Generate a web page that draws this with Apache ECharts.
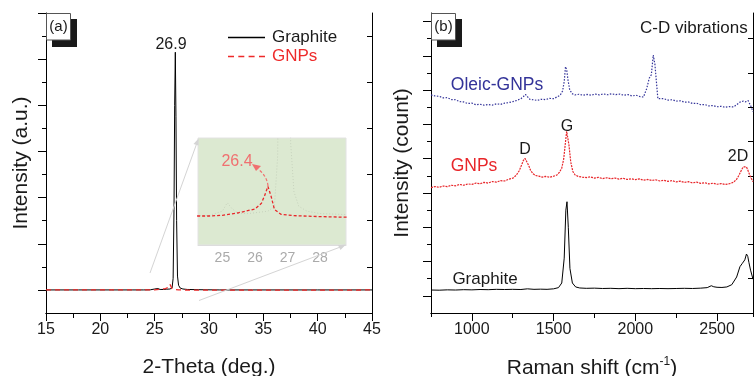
<!DOCTYPE html>
<html><head><meta charset="utf-8">
<script src="https://cdn.jsdelivr.net/npm/echarts@6/dist/echarts.min.js"></script>
<style>html,body{margin:0;padding:0;background:#fff}#c{width:754px;height:376px}</style>
</head><body><div id="c"></div>
<script>
// ---------- DATA ----------
// (a) XRD
const xrdGraphiteX = [15,18,21,23,24,24.6,25.0,25.15,25.3,25.5,25.8,26.1,26.4,26.6,26.7,26.78,26.84,26.9,26.96,27.02,27.1,27.2,27.35,27.6,28,29,31,34,37,40,43,45];
const xrdGraphiteY = [1.0,1.0,1.0,1.0,1.0,1.005,1.04,1.11,1.06,1.02,1.02,1.03,1.04,1.08,1.5,4.5,9.0,11.3,8.5,4.0,1.6,1.2,1.08,1.04,1.02,1.01,1.0,1.0,1.0,1.0,1.0,1.0];
const xrdGnpX = [15,17,19,21,23,24,24.25,24.6,25,25.5,26.0,26.2,26.3,26.4,26.5,26.6,26.8,27.2,28,28.8,30,33,36,39,42,45];
const xrdGnpY = [1.0,1.0,1.0,1.0,1.0,1.0,1.0,1.0,1.006,1.027,1.058,1.105,1.17,1.245,1.16,1.055,1.014,1.003,0.995,0.99,0.99,0.99,0.99,0.99,0.99,1.0];
const xrdTickLabels = [15,20,25,30,35,40,45];
const xrdTopTicks = [17.5,22.5,27.5,32.5,37.5,42.5];
const xrdLeftMajor = [1,3,5,7,9,11,13];
const xrdEven = [2,4,6,8,10,12];
const insetTickLabels = [25,26,27,28];

// (b) Raman
const ramanGraphiteX = [750,800,850,900,950,1000,1050,1100,1150,1200,1250,1300,1340,1380,1420,1460,1500,1530,1550,1565,1575,1582,1590,1600,1615,1635,1660,1700,1750,1800,1850,1900,1950,2000,2050,2100,2150,2200,2250,2300,2350,2400,2440,2465,2480,2500,2530,2560,2590,2620,2640,2655,2670,2680,2688,2695,2705,2720];
const ramanGraphiteY = [1.34,1.33,1.35,1.34,1.36,1.35,1.37,1.36,1.38,1.37,1.38,1.37,1.41,1.38,1.39,1.38,1.41,1.48,1.75,3.2,6.0,6.49,5.0,2.6,1.75,1.52,1.46,1.44,1.45,1.43,1.44,1.42,1.44,1.42,1.43,1.42,1.43,1.42,1.43,1.44,1.43,1.45,1.48,1.59,1.53,1.50,1.49,1.52,1.65,2.1,2.7,2.9,3.1,3.44,3.3,2.95,2.5,1.97];
const ramanGnpX = [750,775,800,825,850,875,900,925,950,975,1000,1025,1050,1075,1100,1125,1150,1175,1200,1225,1250,1270,1290,1305,1315,1325,1335,1348,1360,1375,1390,1410,1430,1450,1475,1500,1520,1535,1550,1562,1572,1580,1586,1594,1605,1618,1632,1650,1675,1700,1725,1750,1775,1800,1825,1850,1875,1900,1925,1950,1975,2000,2025,2050,2075,2100,2125,2150,2175,2200,2225,2250,2275,2300,2325,2350,2375,2400,2425,2450,2475,2500,2525,2550,2575,2600,2620,2635,2650,2660,2670,2680,2690,2700,2710,2720];
const ramanGnpY = [7.31,7.38,7.33,7.41,7.37,7.45,7.42,7.50,7.45,7.53,7.50,7.58,7.54,7.62,7.58,7.67,7.63,7.72,7.70,7.80,7.86,8.02,8.3,8.65,8.9,9.02,8.92,8.6,8.3,8.12,8.02,7.98,7.93,7.97,7.92,7.98,8.05,8.2,8.45,9.0,9.9,10.6,10.68,9.8,8.8,8.25,8.05,7.97,7.93,7.90,7.94,7.87,7.91,7.84,7.89,7.83,7.87,7.81,7.86,7.79,7.83,7.78,7.82,7.75,7.79,7.73,7.77,7.70,7.74,7.68,7.72,7.65,7.69,7.62,7.66,7.59,7.63,7.56,7.60,7.53,7.57,7.51,7.55,7.50,7.54,7.62,7.8,8.05,8.35,8.52,8.59,8.52,8.3,8.05,7.85,7.66];
const ramanOleicX = [750,775,800,825,850,875,900,925,950,975,1000,1025,1050,1075,1100,1125,1150,1175,1200,1225,1250,1275,1300,1315,1328,1340,1355,1375,1400,1425,1450,1475,1500,1520,1540,1555,1565,1573,1580,1588,1598,1612,1630,1655,1680,1705,1730,1755,1780,1805,1830,1855,1880,1905,1930,1955,1980,2005,2030,2050,2060,2070,2085,2098,2110,2120,2128,2138,2150,2175,2200,2225,2250,2275,2300,2325,2350,2375,2400,2425,2450,2475,2500,2525,2550,2575,2600,2620,2640,2660,2675,2690,2700,2710,2720];
const ramanOleicY = [12.72,12.66,12.64,12.55,12.56,12.45,12.44,12.33,12.31,12.22,12.24,12.15,12.18,12.12,12.16,12.13,12.2,12.17,12.24,12.27,12.33,12.4,12.5,12.62,12.75,12.62,12.46,12.44,12.40,12.47,12.45,12.52,12.5,12.6,12.7,12.95,13.5,14.37,14.2,13.6,13.05,12.8,12.72,12.76,12.70,12.75,12.71,12.77,12.72,12.78,12.73,12.79,12.74,12.77,12.70,12.74,12.66,12.7,12.62,12.6,12.56,13.1,13.69,13.9,15.05,14.5,13.6,12.5,12.46,12.5,12.42,12.44,12.36,12.38,12.3,12.31,12.22,12.24,12.15,12.16,12.08,12.1,12.03,12.06,12.0,12.04,12.02,12.15,12.3,12.36,12.32,12.39,12.3,12.0,11.74];
const ramanTickLabels = [1000,1500,2000,2500];
const ramanTopTicks = [1250,1750,2250];
const ramanLeftMajor = [1,3,5,7,9,11,13,15,17];
const ramanEven = [2,4,6,8,10,12,14,16];

// ---------- CHART ----------
const zip = (xs, ys) => xs.map((x, i) => [x, ys[i]]);
const FONT = 'Liberation Sans, Arial, Helvetica, sans-serif';
const INK = '#1a1a1a';
const RED_A = '#ee2a2a';
const chart = echarts.init(document.getElementById('c'), null, {renderer: 'canvas'});

const A = {left: 46, top: 13, width: 326, height: 300, outerBoundsMode: 'none', containLabel: false};
const B = {left: 431, top: 13, width: 322, height: 300, outerBoundsMode: 'none', containLabel: false};
const INSET = {left: 198, top: 138, width: 148, height: 107, outerBoundsMode: 'none', containLabel: false};

const hiddenAxisBase = {axisLabel: {show: false}, splitLine: {show: false}};
const line = {lineStyle: {color: '#000', width: 1}};
const plain = v => String(v);

const option = {
  animation: false,
  backgroundColor: '#fff',
  textStyle: {fontFamily: FONT},
  grid: [
    Object.assign({}, A),
    Object.assign({}, A),
    Object.assign({}, B),
    Object.assign({}, B),
    Object.assign({show: true, backgroundColor: '#dce9d1', borderColor: '#e2e2e2', borderWidth: 1}, INSET)
  ],
  xAxis: [
    {gridIndex: 0, type: 'value', position: 'bottom', min: 15, max: 45, interval: 5,
     axisLine: line, axisTick: {length: 8, lineStyle: {color: '#000'}},
     minorTick: {show: true, splitNumber: 2, length: 4, lineStyle: {color: '#000'}},
     axisLabel: {fontSize: 16, color: INK, margin: 9, customValues: xrdTickLabels, formatter: plain},
     splitLine: {show: false}, minorSplitLine: {show: false},
     name: '2-Theta (deg.)', nameLocation: 'middle', nameGap: 44, nameTextStyle: {fontSize: 21, color: INK}},
    Object.assign({gridIndex: 0, type: 'value', position: 'top', min: 15, max: 45,
     axisLine: line, axisTick: {inside: true, length: 5, customValues: xrdTopTicks, lineStyle: {color: '#000'}}}, hiddenAxisBase),
    {gridIndex: 1, type: 'value', min: 15, max: 45, show: false},
    {gridIndex: 2, type: 'value', position: 'bottom', min: 750, max: 2720, interval: 250,
     axisLine: line, axisTick: {length: 4, lineStyle: {color: '#000'}},
     axisLabel: {fontSize: 16, color: INK, margin: 9, customValues: ramanTickLabels, formatter: plain},
     splitLine: {show: false},
     name: 'Raman shift (cm{sup|-1})', nameLocation: 'middle', nameGap: 43,
     nameTextStyle: {fontSize: 21, color: INK, lineHeight: 24, rich: {sup: {fontSize: 12, color: INK, verticalAlign: 'top', lineHeight: 24}}}},
    Object.assign({gridIndex: 2, type: 'value', position: 'top', min: 750, max: 2720,
     axisLine: line, axisTick: {inside: true, length: 5, customValues: ramanTopTicks, lineStyle: {color: '#000'}}}, hiddenAxisBase),
    Object.assign({gridIndex: 3, type: 'value', position: 'bottom', min: 750, max: 2720,
     axisLine: {show: false}, axisTick: {length: 8, customValues: ramanTickLabels, lineStyle: {color: '#000'}}}, hiddenAxisBase),
    {gridIndex: 4, type: 'value', position: 'bottom', min: 24.25, max: 28.8,
     axisLine: {lineStyle: {color: '#dddddd'}}, axisTick: {show: false},
     axisLabel: {fontSize: 14, color: '#aaaaaa', margin: 6, customValues: insetTickLabels, formatter: plain},
     splitLine: {show: false}}
  ],
  yAxis: [
    Object.assign({gridIndex: 0, type: 'value', position: 'left', min: 0, max: 13,
     axisLine: line, axisTick: {show: true, length: 8, customValues: xrdLeftMajor, lineStyle: {color: '#000'}},
     name: 'Intensity (a.u.)', nameLocation: 'middle', nameGap: 14, nameTextStyle: {fontSize: 21, color: INK}}, hiddenAxisBase),
    Object.assign({gridIndex: 0, type: 'value', position: 'right', min: 0, max: 13,
     axisLine: line, axisTick: {show: true, inside: true, length: 5, customValues: xrdEven, lineStyle: {color: '#000'}}}, hiddenAxisBase),
    Object.assign({gridIndex: 1, type: 'value', position: 'left', min: 0, max: 13,
     axisLine: {show: false}, axisTick: {show: true, length: 4, customValues: xrdEven, lineStyle: {color: '#000'}}}, hiddenAxisBase),
    Object.assign({gridIndex: 2, type: 'value', position: 'left', min: 0, max: 17.5,
     axisLine: line, axisTick: {show: true, length: 8, customValues: ramanLeftMajor, lineStyle: {color: '#000'}},
     name: 'Intensity (count)', nameLocation: 'middle', nameGap: 18, nameTextStyle: {fontSize: 21, color: INK}}, hiddenAxisBase),
    Object.assign({gridIndex: 2, type: 'value', position: 'right', min: 0, max: 17.5,
     axisLine: line, axisTick: {show: true, inside: true, length: 5, customValues: ramanEven, lineStyle: {color: '#000'}}}, hiddenAxisBase),
    Object.assign({gridIndex: 3, type: 'value', position: 'left', min: 0, max: 17.5,
     axisLine: {show: false}, axisTick: {show: true, length: 4, customValues: ramanEven, lineStyle: {color: '#000'}}}, hiddenAxisBase),
    Object.assign({gridIndex: 4, type: 'value', position: 'left', min: 0.76, max: 1.6455,
     axisLine: {show: false}, axisTick: {show: false}}, hiddenAxisBase)
  ],
  legend: {
    left: 223, top: 24, orient: 'vertical', itemWidth: 37, itemHeight: 1.3, itemGap: 2,
    symbolKeepAspect: false,
    textStyle: {fontSize: 17, color: INK, padding: [0, 0, 0, 2]},
    data: [
      {name: 'Graphite', icon: 'path://M0,0H37V1H0Z', itemStyle: {color: '#000'}, textStyle: {color: INK}},
      {name: 'GNPs', icon: 'path://M0,0H6V1H0Z M10.3,0H16.3V1H10.3Z M20.6,0H26.6V1H20.6Z M31,0H37V1H31Z', itemStyle: {color: RED_A}, textStyle: {color: RED_A}}
    ]
  },
  series: [
    {name: 'Graphite', type: 'line', xAxisIndex: 0, yAxisIndex: 0, data: zip(xrdGraphiteX, xrdGraphiteY),
     symbol: 'none', lineStyle: {color: '#000', width: 1}, itemStyle: {color: '#000'}},
    {name: 'GNPs', type: 'line', xAxisIndex: 0, yAxisIndex: 0, data: zip(xrdGnpX, xrdGnpY),
     symbol: 'none', lineStyle: {color: RED_A, width: 1.3, type: [5, 4]}, itemStyle: {color: RED_A}},
    {name: 'Graphite (inset)', type: 'line', xAxisIndex: 6, yAxisIndex: 6, data: zip(xrdGraphiteX, xrdGraphiteY),
     symbol: 'none', clip: true, lineStyle: {color: 'rgba(0,0,0,0.10)', width: 1, type: [1, 2]}},
    {name: 'GNPs (inset)', type: 'line', xAxisIndex: 6, yAxisIndex: 6, data: zip(xrdGnpX, xrdGnpY),
     symbol: 'none', clip: true, lineStyle: {color: '#e8262a', width: 1.3, type: [3, 2]}},
    {name: 'Raman Graphite', type: 'line', xAxisIndex: 3, yAxisIndex: 3, data: zip(ramanGraphiteX, ramanGraphiteY),
     symbol: 'none', lineStyle: {color: '#000', width: 1}},
    {name: 'Raman GNPs', type: 'line', xAxisIndex: 3, yAxisIndex: 3, data: zip(ramanGnpX, ramanGnpY),
     symbol: 'none', lineStyle: {color: '#e8262a', width: 1.2, type: [2, 1]}},
    {name: 'Raman Oleic-GNPs', type: 'line', xAxisIndex: 3, yAxisIndex: 3, data: zip(ramanOleicX, ramanOleicY),
     symbol: 'none', lineStyle: {color: '#333399', width: 1.2, type: [1.5, 1.5]}}
  ],
  graphic: [
    // zoom guide lines (a)
    {type: 'line', z: 50, shape: {x1: 150, y1: 273, x2: 198, y2: 140}, style: {stroke: '#d4d4d4', lineWidth: 1}},
    {type: 'polygon', z: 50, shape: {points: [[198.5, 138.5], [193.5, 144], [198.5, 145.5]]}, style: {fill: '#d4d4d4'}},
    {type: 'line', z: 50, shape: {x1: 199, y1: 300.5, x2: 343, y2: 246}, style: {stroke: '#d4d4d4', lineWidth: 1}},
    {type: 'polygon', z: 50, shape: {points: [[346, 244.5], [338, 245.2], [340.5, 250]]}, style: {fill: '#d4d4d4'}},
    // inset annotation arrow
    {type: 'bezierCurve', z: 60, shape: {x1: 268, y1: 186, cpx1: 267, cpy1: 176, x2: 258, y2: 169}, style: {stroke: '#f07070', lineWidth: 1.2, lineDash: [3, 2], fill: null}},
    {type: 'polygon', z: 60, shape: {points: [[252, 164], [261, 166], [256, 171]]}, style: {fill: '#f07070'}},
    {type: 'text', z: 60, style: {x: 237, y: 162, text: '26.4', fontSize: 16, fill: '#f07070', align: 'center', verticalAlign: 'middle', fontFamily: FONT}},
    // peak label (a)
    {type: 'text', z: 60, style: {x: 171, y: 45, text: '26.9', fontSize: 16, fill: INK, align: 'center', verticalAlign: 'middle', fontFamily: FONT}},
    // panel tags
    {type: 'rect', z: 70, shape: {x: 52, y: 19, width: 25, height: 28}, style: {fill: '#1a1a1a'}},
    {type: 'rect', z: 71, shape: {x: 46.5, y: 13.5, width: 24, height: 26.5}, style: {fill: '#fff', stroke: '#555', lineWidth: 1}},
    {type: 'text', z: 72, style: {x: 58.5, y: 27, text: '(a)', fontSize: 15, fill: INK, align: 'center', verticalAlign: 'middle', fontFamily: FONT}},
    {type: 'rect', z: 70, shape: {x: 437, y: 19, width: 25, height: 28}, style: {fill: '#1a1a1a'}},
    {type: 'rect', z: 71, shape: {x: 431.5, y: 13.5, width: 24, height: 26.5}, style: {fill: '#fff', stroke: '#555', lineWidth: 1}},
    {type: 'text', z: 72, style: {x: 443.5, y: 27, text: '(b)', fontSize: 15, fill: INK, align: 'center', verticalAlign: 'middle', fontFamily: FONT}},
    // panel (b) annotations
    {type: 'text', z: 60, style: {x: 640, y: 28, text: 'C-D vibrations', fontSize: 17, fill: INK, align: 'left', verticalAlign: 'middle', fontFamily: FONT}},
    {type: 'text', z: 60, style: {x: 497, y: 85, text: 'Oleic-GNPs', fontSize: 17.5, fill: '#333399', align: 'center', verticalAlign: 'middle', fontFamily: FONT}},
    {type: 'text', z: 60, style: {x: 474, y: 166, text: 'GNPs', fontSize: 17.5, fill: '#e8262a', align: 'center', verticalAlign: 'middle', fontFamily: FONT}},
    {type: 'text', z: 60, style: {x: 485, y: 279, text: 'Graphite', fontSize: 17, fill: INK, align: 'center', verticalAlign: 'middle', fontFamily: FONT}},
    {type: 'text', z: 60, style: {x: 525, y: 150, text: 'D', fontSize: 16, fill: INK, align: 'center', verticalAlign: 'middle', fontFamily: FONT}},
    {type: 'text', z: 60, style: {x: 567, y: 127, text: 'G', fontSize: 16, fill: INK, align: 'center', verticalAlign: 'middle', fontFamily: FONT}},
    {type: 'text', z: 60, style: {x: 738, y: 157, text: '2D', fontSize: 16, fill: INK, align: 'center', verticalAlign: 'middle', fontFamily: FONT}}
  ]
};
chart.setOption(option);
</script></body></html>
